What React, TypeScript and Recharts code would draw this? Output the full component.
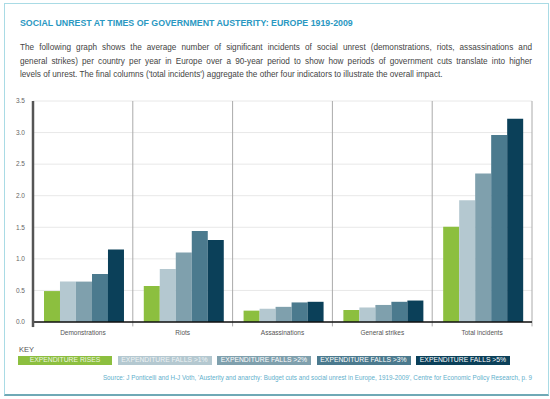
import { BarChart, Bar, XAxis, YAxis, CartesianGrid, ReferenceLine } from 'recharts';

// values
const categories = ['Demonstrations', 'Riots', 'Assassinations', 'General strikes', 'Total incidents'];
const rises = [0.49, 0.57, 0.18, 0.19, 1.51];
const falls1 = [0.64, 0.84, 0.21, 0.23, 1.93];
const falls2 = [0.64, 1.1, 0.24, 0.27, 2.35];
const falls3 = [0.76, 1.44, 0.31, 0.32, 2.96];
const falls5 = [1.15, 1.3, 0.32, 0.34, 3.22];
const yTicks = [0, 0.5, 1, 1.5, 2, 2.5, 3, 3.5];
const separators = [1, 2, 3, 4, 5];

const series = [
  { key: 'rises', label: 'EXPENDITURE RISES', color: '#8cbf3f', text: '#eef5e0' },
  { key: 'falls1', label: 'EXPENDITURE FALLS >1%', color: '#b4c8d0', text: '#eef3f5' },
  { key: 'falls2', label: 'EXPENDITURE FALLS >2%', color: '#7fa0ad', text: '#ffffff' },
  { key: 'falls3', label: 'EXPENDITURE FALLS >3%', color: '#4b7a8e', text: '#ffffff' },
  { key: 'falls5', label: 'EXPENDITURE FALLS >5%', color: '#0b4059', text: '#ffffff' },
];

const data = categories.map((cat, i) => ({
  cat,
  pos: i + 0.5,
  rises: rises[i],
  falls1: falls1[i],
  falls2: falls2[i],
  falls3: falls3[i],
  falls5: falls5[i],
}));

const font = '"Liberation Sans", Arial, Helvetica, sans-serif';

const paraLines = [
  'The following graph shows the average number of significant incidents of social unrest (demonstrations, riots, assassinations and',
  'general strikes) per country per year in Europe over a 90-year period to show how periods of government cuts translate into higher',
  "levels of unrest. The final columns ('total incidents') aggregate the other four indicators to illustrate the overall impact.",
];

export default function App() {
  return (
    <div style={{ position: 'absolute', left: 0, top: 0, width: 550, height: 399, background: '#fff', fontFamily: font, overflow: 'hidden' }}>
      {/* frame */}
      <div style={{
        position: 'absolute', left: 4, top: 3, width: 543, height: 390,
        border: '1px solid #a9dbe5', borderBottom: '2px solid #6fa9b6',
      }} />

      <div style={{ position: 'absolute', left: 20, top: 18, fontSize: 8.8, fontWeight: 'bold', color: '#2a98c2', whiteSpace: 'nowrap' }}>
        SOCIAL UNREST AT TIMES OF GOVERNMENT AUSTERITY: EUROPE 1919-2009
      </div>

      <div style={{ position: 'absolute', left: 20, top: 41, width: 512, fontSize: 8.2, lineHeight: '13.5px', color: '#444' }}>
        {paraLines.map((l, i) => (
          <div key={i} style={{ textAlign: 'justify', textAlignLast: i < 2 ? 'justify' : 'left', whiteSpace: 'nowrap' }}>{l}</div>
        ))}
      </div>

      <div style={{ position: 'absolute', left: 0, top: 90 }}>
        <BarChart
          width={550}
          height={250}
          data={data}
          margin={{ top: 11, right: 18, bottom: 4, left: 0 }}
          barCategoryGap="11%"
          barGap={0}
        >
          <CartesianGrid vertical={false} stroke="#e8e8e8" />
          <XAxis
            dataKey="cat"
            tickLine={false}
            axisLine={false}
            tickSize={0}
            tickMargin={8}
            height={14}
            tick={{ fontSize: 6.5, fill: '#555', fontFamily: font }}
          />
          <XAxis xAxisId="sep" dataKey="pos" type="number" domain={[0, 5]} allowDataOverflow hide />
          <YAxis
            domain={[0, 3.5]}
            ticks={yTicks}
            tickFormatter={(v: number) => v.toFixed(1)}
            axisLine={false}
            tickLine={false}
            tickSize={0}
            tickMargin={8}
            width={33}
            tick={{ fontSize: 6.5, fill: '#666', fontFamily: font }}
          />
          {series.map((s) => (
            <Bar key={s.key} dataKey={s.key} fill={s.color} isAnimationActive={false} />
          ))}
          {separators.map((x) => (
            <ReferenceLine
              key={x}
              xAxisId="sep"
              segment={[{ x, y: -0.07 }, { x, y: 3.5 }]}
              stroke="#aaaaaa"
              strokeWidth={1}
              ifOverflow="visible"
            />
          ))}
          <ReferenceLine xAxisId="sep" y={0} stroke="#111" strokeWidth={1.5} ifOverflow="visible" />
          <ReferenceLine
            xAxisId="sep"
            segment={[{ x: 0, y: -0.08 }, { x: 0, y: 3.5 }]}
            stroke="#555"
            strokeWidth={2.5}
            ifOverflow="visible"
          />
        </BarChart>
      </div>

      <div style={{ position: 'absolute', left: 19, top: 345, fontSize: 7.5, color: '#555' }}>KEY</div>
      <div style={{ position: 'absolute', left: 18, top: 356, display: 'flex', gap: 5.5 }}>
        {series.map((s) => (
          <div key={s.key} style={{
            width: 94, height: 8.5, background: s.color, color: s.text,
            fontSize: 6.8, lineHeight: '8.5px', textAlign: 'center', whiteSpace: 'nowrap',
          }}>
            {s.label}
          </div>
        ))}
      </div>

      <div style={{ position: 'absolute', right: 18, top: 374, fontSize: 6.3, color: '#5fb0cc', whiteSpace: 'nowrap' }}>
        Source: J Ponticelli and H-J Voth, 'Austerity and anarchy: Budget cuts and social unrest in Europe, 1919-2009', Centre for Economic Policy Research, p. 9
      </div>
    </div>
  );
}
